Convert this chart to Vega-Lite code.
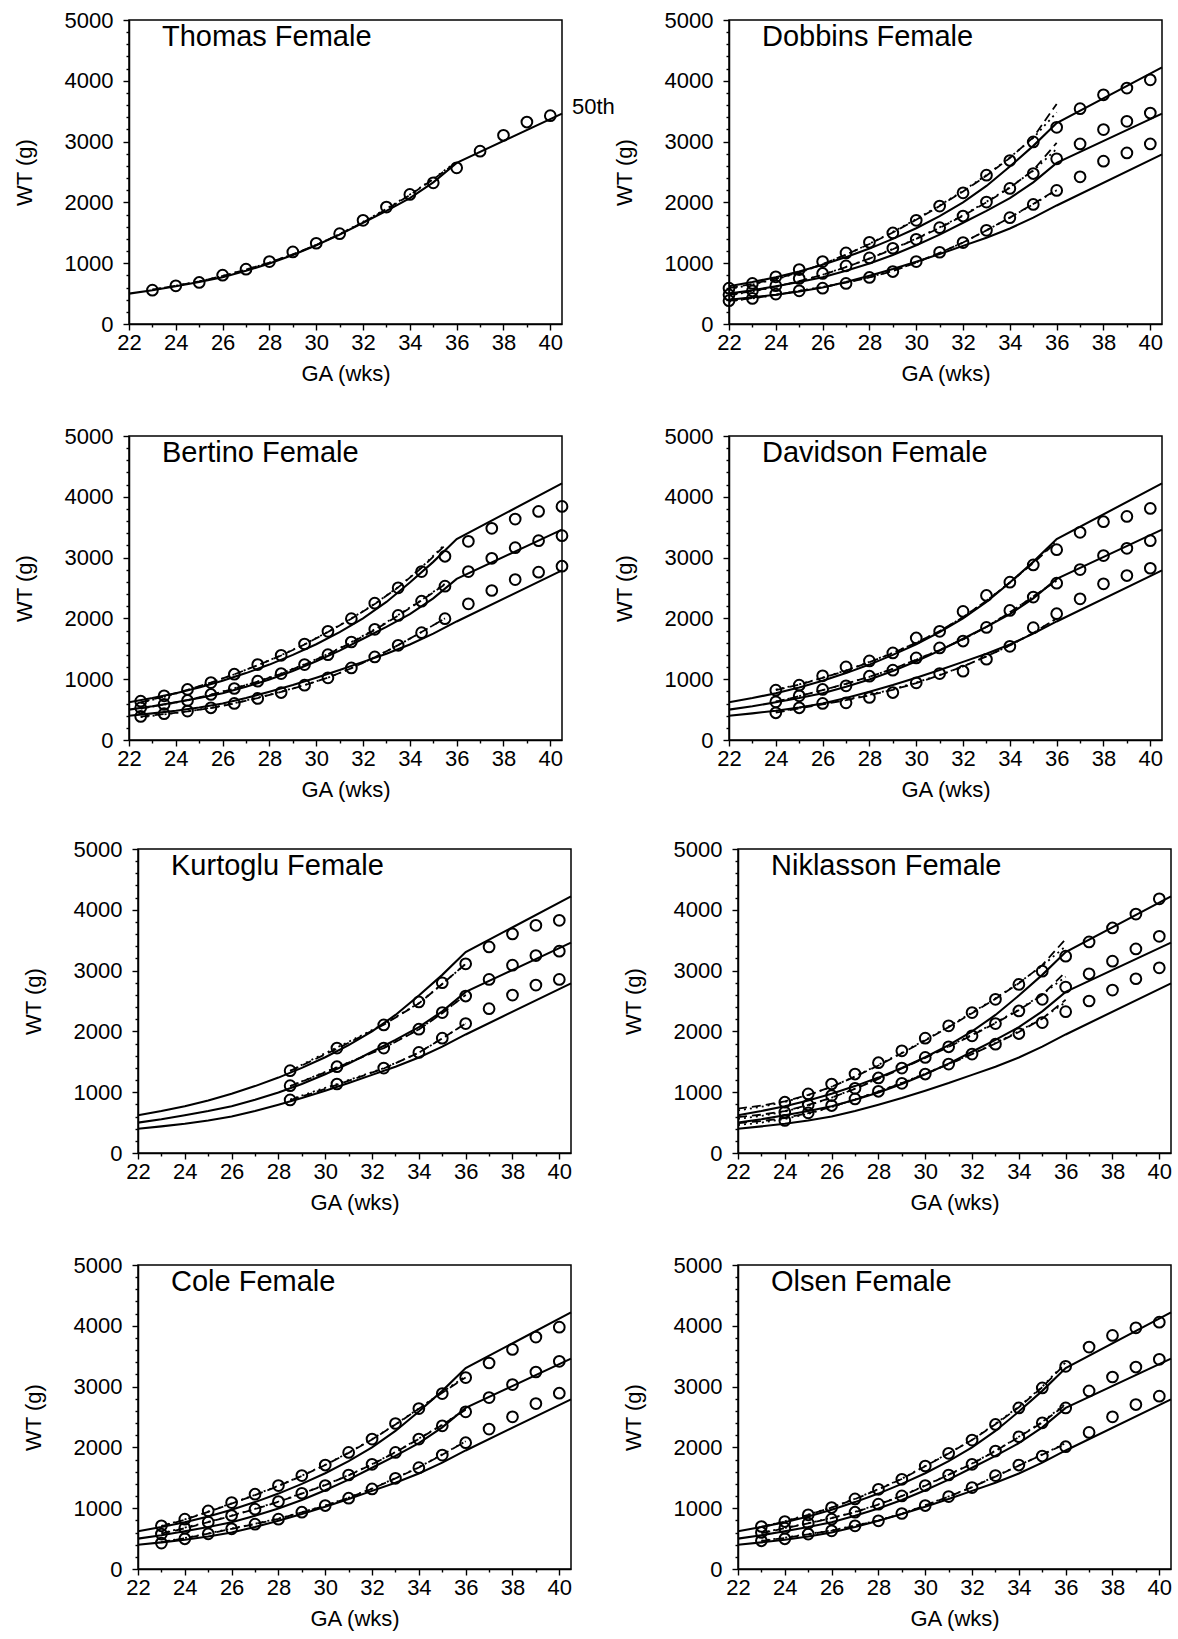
{
"$schema":"https://vega.github.io/schema/vega-lite/v6.json",
"padding":{"left":12,"top":8,"right":5,"bottom":5},
"spacing":36,
"bounds":"full",
"datasets":{
"ref":[
{"c":"90th","ga":22,"wt":620},{"c":"90th","ga":23,"wt":690},{"c":"90th","ga":24,"wt":770},{"c":"90th","ga":25,"wt":865},{"c":"90th","ga":26,"wt":975},{"c":"90th","ga":27,"wt":1100},{"c":"90th","ga":28,"wt":1240},{"c":"90th","ga":29,"wt":1400},{"c":"90th","ga":30,"wt":1575},{"c":"90th","ga":31,"wt":1775},{"c":"90th","ga":32,"wt":2000},{"c":"90th","ga":33,"wt":2270},{"c":"90th","ga":34,"wt":2590},{"c":"90th","ga":35,"wt":2930},{"c":"90th","ga":36,"wt":3305},{"c":"90th","ga":40.5,"wt":4220},
{"c":"50th","ga":22,"wt":500},{"c":"50th","ga":23,"wt":555},{"c":"50th","ga":24,"wt":620},{"c":"50th","ga":25,"wt":690},{"c":"50th","ga":26,"wt":770},{"c":"50th","ga":27,"wt":875},{"c":"50th","ga":28,"wt":995},{"c":"50th","ga":29,"wt":1135},{"c":"50th","ga":30,"wt":1295},{"c":"50th","ga":31,"wt":1470},{"c":"50th","ga":32,"wt":1665},{"c":"50th","ga":33,"wt":1860},{"c":"50th","ga":34,"wt":2070},{"c":"50th","ga":35,"wt":2330},{"c":"50th","ga":36,"wt":2650},{"c":"50th","ga":40.5,"wt":3460},
{"c":"10th","ga":22,"wt":400},{"c":"10th","ga":23,"wt":438},{"c":"10th","ga":24,"wt":482},{"c":"10th","ga":25,"wt":535},{"c":"10th","ga":26,"wt":600},{"c":"10th","ga":27,"wt":690},{"c":"10th","ga":28,"wt":795},{"c":"10th","ga":29,"wt":905},{"c":"10th","ga":30,"wt":1025},{"c":"10th","ga":31,"wt":1150},{"c":"10th","ga":32,"wt":1285},{"c":"10th","ga":33,"wt":1420},{"c":"10th","ga":34,"wt":1570},{"c":"10th","ga":35,"wt":1750},{"c":"10th","ga":36,"wt":1950},{"c":"10th","ga":40.5,"wt":2790}
],
"fit":[
{"p":"Thomas","c":"50th","ga":23,"a":565,"b":565},{"p":"Thomas","c":"50th","ga":24,"a":630,"b":630},{"p":"Thomas","c":"50th","ga":25,"a":700,"b":700},{"p":"Thomas","c":"50th","ga":26,"a":790,"b":790},{"p":"Thomas","c":"50th","ga":27,"a":895,"b":895},{"p":"Thomas","c":"50th","ga":28,"a":1010,"b":1010},{"p":"Thomas","c":"50th","ga":29,"a":1145,"b":1145},{"p":"Thomas","c":"50th","ga":30,"a":1300,"b":1300},{"p":"Thomas","c":"50th","ga":31,"a":1475,"b":1480},{"p":"Thomas","c":"50th","ga":32,"a":1670,"b":1680},{"p":"Thomas","c":"50th","ga":33,"a":1885,"b":1895},{"p":"Thomas","c":"50th","ga":34,"a":2120,"b":2130},{"p":"Thomas","c":"50th","ga":35,"a":2380,"b":2390},{"p":"Thomas","c":"50th","ga":36,"a":2660,"b":2670},

{"p":"Dobbins","c":"90th","ga":22,"a":590,"b":575},{"p":"Dobbins","c":"90th","ga":23,"a":660,"b":650},{"p":"Dobbins","c":"90th","ga":24,"a":745,"b":735},{"p":"Dobbins","c":"90th","ga":25,"a":850,"b":845},{"p":"Dobbins","c":"90th","ga":26,"a":985,"b":980},{"p":"Dobbins","c":"90th","ga":27,"a":1140,"b":1140},{"p":"Dobbins","c":"90th","ga":28,"a":1315,"b":1320},{"p":"Dobbins","c":"90th","ga":29,"a":1505,"b":1515},{"p":"Dobbins","c":"90th","ga":30,"a":1715,"b":1725},{"p":"Dobbins","c":"90th","ga":31,"a":1940,"b":1950},{"p":"Dobbins","c":"90th","ga":32,"a":2180,"b":2190},{"p":"Dobbins","c":"90th","ga":33,"a":2440,"b":2450},{"p":"Dobbins","c":"90th","ga":34,"a":2730,"b":2740},{"p":"Dobbins","c":"90th","ga":35,"a":3070,"b":3060},{"p":"Dobbins","c":"90th","ga":36,"a":3620,"b":3480},
{"p":"Dobbins","c":"50th","ga":22,"a":480,"b":470},{"p":"Dobbins","c":"50th","ga":23,"a":540,"b":535},{"p":"Dobbins","c":"50th","ga":24,"a":615,"b":610},{"p":"Dobbins","c":"50th","ga":25,"a":705,"b":700},{"p":"Dobbins","c":"50th","ga":26,"a":810,"b":810},{"p":"Dobbins","c":"50th","ga":27,"a":935,"b":940},{"p":"Dobbins","c":"50th","ga":28,"a":1075,"b":1080},{"p":"Dobbins","c":"50th","ga":29,"a":1230,"b":1235},{"p":"Dobbins","c":"50th","ga":30,"a":1400,"b":1405},{"p":"Dobbins","c":"50th","ga":31,"a":1580,"b":1590},{"p":"Dobbins","c":"50th","ga":32,"a":1780,"b":1790},{"p":"Dobbins","c":"50th","ga":33,"a":2000,"b":2010},{"p":"Dobbins","c":"50th","ga":34,"a":2240,"b":2250},{"p":"Dobbins","c":"50th","ga":35,"a":2530,"b":2520},{"p":"Dobbins","c":"50th","ga":36,"a":2980,"b":2880},
{"p":"Dobbins","c":"10th","ga":22,"a":380,"b":370},{"p":"Dobbins","c":"10th","ga":23,"a":425,"b":420},{"p":"Dobbins","c":"10th","ga":24,"a":480,"b":478},{"p":"Dobbins","c":"10th","ga":25,"a":545,"b":545},{"p":"Dobbins","c":"10th","ga":26,"a":605,"b":610},{"p":"Dobbins","c":"10th","ga":27,"a":680,"b":685},{"p":"Dobbins","c":"10th","ga":28,"a":765,"b":770},{"p":"Dobbins","c":"10th","ga":29,"a":870,"b":875},{"p":"Dobbins","c":"10th","ga":30,"a":1010,"b":1010},{"p":"Dobbins","c":"10th","ga":31,"a":1170,"b":1170},{"p":"Dobbins","c":"10th","ga":32,"a":1340,"b":1340},{"p":"Dobbins","c":"10th","ga":33,"a":1540,"b":1540},{"p":"Dobbins","c":"10th","ga":34,"a":1750,"b":1750},{"p":"Dobbins","c":"10th","ga":35,"a":1975,"b":1970},{"p":"Dobbins","c":"10th","ga":36,"a":2210,"b":2200},

{"p":"Bertino","c":"90th","ga":22.5,"a":620,"b":610},{"p":"Bertino","c":"90th","ga":23.5,"a":715,"b":710},{"p":"Bertino","c":"90th","ga":24.5,"a":825,"b":820},{"p":"Bertino","c":"90th","ga":25.5,"a":945,"b":945},{"p":"Bertino","c":"90th","ga":26.5,"a":1080,"b":1080},{"p":"Bertino","c":"90th","ga":27.5,"a":1230,"b":1230},{"p":"Bertino","c":"90th","ga":28.5,"a":1390,"b":1395},{"p":"Bertino","c":"90th","ga":29.5,"a":1570,"b":1575},{"p":"Bertino","c":"90th","ga":30.5,"a":1775,"b":1780},{"p":"Bertino","c":"90th","ga":31.5,"a":1995,"b":2000},{"p":"Bertino","c":"90th","ga":32.5,"a":2235,"b":2240},{"p":"Bertino","c":"90th","ga":33.5,"a":2510,"b":2515},{"p":"Bertino","c":"90th","ga":34.5,"a":2830,"b":2840},{"p":"Bertino","c":"90th","ga":35.5,"a":3200,"b":3220},
{"p":"Bertino","c":"50th","ga":22.5,"a":520,"b":515},{"p":"Bertino","c":"50th","ga":23.5,"a":585,"b":580},{"p":"Bertino","c":"50th","ga":24.5,"a":655,"b":650},{"p":"Bertino","c":"50th","ga":25.5,"a":745,"b":745},{"p":"Bertino","c":"50th","ga":26.5,"a":845,"b":850},{"p":"Bertino","c":"50th","ga":27.5,"a":960,"b":965},{"p":"Bertino","c":"50th","ga":28.5,"a":1090,"b":1095},{"p":"Bertino","c":"50th","ga":29.5,"a":1240,"b":1245},{"p":"Bertino","c":"50th","ga":30.5,"a":1410,"b":1415},{"p":"Bertino","c":"50th","ga":31.5,"a":1600,"b":1610},{"p":"Bertino","c":"50th","ga":32.5,"a":1810,"b":1820},{"p":"Bertino","c":"50th","ga":33.5,"a":2045,"b":2055},{"p":"Bertino","c":"50th","ga":34.5,"a":2295,"b":2305},{"p":"Bertino","c":"50th","ga":35.5,"a":2560,"b":2570},
{"p":"Bertino","c":"10th","ga":22.5,"a":385,"b":375},{"p":"Bertino","c":"10th","ga":23.5,"a":425,"b":420},{"p":"Bertino","c":"10th","ga":24.5,"a":470,"b":470},{"p":"Bertino","c":"10th","ga":25.5,"a":525,"b":530},{"p":"Bertino","c":"10th","ga":26.5,"a":600,"b":605},{"p":"Bertino","c":"10th","ga":27.5,"a":690,"b":695},{"p":"Bertino","c":"10th","ga":28.5,"a":790,"b":795},{"p":"Bertino","c":"10th","ga":29.5,"a":900,"b":905},{"p":"Bertino","c":"10th","ga":30.5,"a":1025,"b":1025},{"p":"Bertino","c":"10th","ga":31.5,"a":1180,"b":1180},{"p":"Bertino","c":"10th","ga":32.5,"a":1360,"b":1360},{"p":"Bertino","c":"10th","ga":33.5,"a":1560,"b":1560},{"p":"Bertino","c":"10th","ga":34.5,"a":1775,"b":1775},{"p":"Bertino","c":"10th","ga":35.5,"a":2000,"b":2000},

{"p":"Davidson","c":"90th","ga":24,"a":820,"b":830},{"p":"Davidson","c":"90th","ga":25,"a":910,"b":915},{"p":"Davidson","c":"90th","ga":26,"a":1020,"b":1025},{"p":"Davidson","c":"90th","ga":27,"a":1140,"b":1145},{"p":"Davidson","c":"90th","ga":28,"a":1280,"b":1285},{"p":"Davidson","c":"90th","ga":29,"a":1430,"b":1435},{"p":"Davidson","c":"90th","ga":30,"a":1600,"b":1600},{"p":"Davidson","c":"90th","ga":31,"a":1790,"b":1790},{"p":"Davidson","c":"90th","ga":32,"a":2020,"b":2020},{"p":"Davidson","c":"90th","ga":33,"a":2290,"b":2290},{"p":"Davidson","c":"90th","ga":34,"a":2590,"b":2590},{"p":"Davidson","c":"90th","ga":35,"a":2910,"b":2920},{"p":"Davidson","c":"90th","ga":36,"a":3260,"b":3280},
{"p":"Davidson","c":"50th","ga":24,"a":630,"b":630},{"p":"Davidson","c":"50th","ga":25,"a":720,"b":720},{"p":"Davidson","c":"50th","ga":26,"a":820,"b":820},{"p":"Davidson","c":"50th","ga":27,"a":925,"b":925},{"p":"Davidson","c":"50th","ga":28,"a":1040,"b":1040},{"p":"Davidson","c":"50th","ga":29,"a":1170,"b":1170},{"p":"Davidson","c":"50th","ga":30,"a":1320,"b":1320},{"p":"Davidson","c":"50th","ga":31,"a":1480,"b":1480},{"p":"Davidson","c":"50th","ga":32,"a":1655,"b":1655},{"p":"Davidson","c":"50th","ga":33,"a":1860,"b":1860},{"p":"Davidson","c":"50th","ga":34,"a":2100,"b":2100},{"p":"Davidson","c":"50th","ga":35,"a":2360,"b":2360},{"p":"Davidson","c":"50th","ga":36,"a":2620,"b":2620},
{"p":"Davidson","c":"10th","ga":24,"a":450,"b":460},{"p":"Davidson","c":"10th","ga":25,"a":520,"b":530},{"p":"Davidson","c":"10th","ga":26,"a":585,"b":595},{"p":"Davidson","c":"10th","ga":27,"a":655,"b":665},{"p":"Davidson","c":"10th","ga":28,"a":735,"b":745},{"p":"Davidson","c":"10th","ga":29,"a":825,"b":835},{"p":"Davidson","c":"10th","ga":30,"a":935,"b":945},{"p":"Davidson","c":"10th","ga":31,"a":1065,"b":1070},{"p":"Davidson","c":"10th","ga":32,"a":1210,"b":1210},{"p":"Davidson","c":"10th","ga":33,"a":1375,"b":1375},{"p":"Davidson","c":"10th","ga":34,"a":1555,"b":1555},{"p":"Davidson","c":"10th","ga":35,"a":1760,"b":1760},{"p":"Davidson","c":"10th","ga":36,"a":2000,"b":2000},

{"p":"Kurtoglu","c":"90th","ga":28.5,"a":1350,"b":1350},{"p":"Kurtoglu","c":"90th","ga":29.5,"a":1530,"b":1550},{"p":"Kurtoglu","c":"90th","ga":30.5,"a":1715,"b":1735},{"p":"Kurtoglu","c":"90th","ga":31.5,"a":1910,"b":1925},{"p":"Kurtoglu","c":"90th","ga":32.5,"a":2110,"b":2120},{"p":"Kurtoglu","c":"90th","ga":34,"a":2460,"b":2465},{"p":"Kurtoglu","c":"90th","ga":35,"a":2780,"b":2780},{"p":"Kurtoglu","c":"90th","ga":36,"a":3110,"b":3110},
{"p":"Kurtoglu","c":"50th","ga":28.5,"a":1100,"b":1100},{"p":"Kurtoglu","c":"50th","ga":29.5,"a":1250,"b":1255},{"p":"Kurtoglu","c":"50th","ga":30.5,"a":1405,"b":1410},{"p":"Kurtoglu","c":"50th","ga":31.5,"a":1565,"b":1570},{"p":"Kurtoglu","c":"50th","ga":32.5,"a":1725,"b":1730},{"p":"Kurtoglu","c":"50th","ga":34,"a":2030,"b":2035},{"p":"Kurtoglu","c":"50th","ga":35,"a":2300,"b":2305},{"p":"Kurtoglu","c":"50th","ga":36,"a":2600,"b":2600},
{"p":"Kurtoglu","c":"10th","ga":28.5,"a":870,"b":880},{"p":"Kurtoglu","c":"10th","ga":29.5,"a":990,"b":1010},{"p":"Kurtoglu","c":"10th","ga":30.5,"a":1120,"b":1135},{"p":"Kurtoglu","c":"10th","ga":31.5,"a":1255,"b":1265},{"p":"Kurtoglu","c":"10th","ga":32.5,"a":1390,"b":1395},{"p":"Kurtoglu","c":"10th","ga":34,"a":1650,"b":1650},{"p":"Kurtoglu","c":"10th","ga":35,"a":1885,"b":1885},{"p":"Kurtoglu","c":"10th","ga":36,"a":2130,"b":2130},

{"p":"Niklasson","c":"90th","ga":22,"a":730,"b":700},{"p":"Niklasson","c":"90th","ga":23,"a":780,"b":760},{"p":"Niklasson","c":"90th","ga":24,"a":850,"b":840},{"p":"Niklasson","c":"90th","ga":25,"a":955,"b":950},{"p":"Niklasson","c":"90th","ga":26,"a":1090,"b":1090},{"p":"Niklasson","c":"90th","ga":27,"a":1255,"b":1260},{"p":"Niklasson","c":"90th","ga":28,"a":1440,"b":1450},{"p":"Niklasson","c":"90th","ga":29,"a":1640,"b":1650},{"p":"Niklasson","c":"90th","ga":30,"a":1850,"b":1860},{"p":"Niklasson","c":"90th","ga":31,"a":2070,"b":2080},{"p":"Niklasson","c":"90th","ga":32,"a":2300,"b":2310},{"p":"Niklasson","c":"90th","ga":33,"a":2535,"b":2545},{"p":"Niklasson","c":"90th","ga":34,"a":2790,"b":2800},{"p":"Niklasson","c":"90th","ga":35,"a":3090,"b":3080},{"p":"Niklasson","c":"90th","ga":36,"a":3520,"b":3400},
{"p":"Niklasson","c":"50th","ga":22,"a":590,"b":560},{"p":"Niklasson","c":"50th","ga":23,"a":630,"b":610},{"p":"Niklasson","c":"50th","ga":24,"a":690,"b":680},{"p":"Niklasson","c":"50th","ga":25,"a":790,"b":780},{"p":"Niklasson","c":"50th","ga":26,"a":910,"b":910},{"p":"Niklasson","c":"50th","ga":27,"a":1055,"b":1060},{"p":"Niklasson","c":"50th","ga":28,"a":1220,"b":1225},{"p":"Niklasson","c":"50th","ga":29,"a":1390,"b":1395},{"p":"Niklasson","c":"50th","ga":30,"a":1565,"b":1570},{"p":"Niklasson","c":"50th","ga":31,"a":1745,"b":1755},{"p":"Niklasson","c":"50th","ga":32,"a":1935,"b":1945},{"p":"Niklasson","c":"50th","ga":33,"a":2135,"b":2145},{"p":"Niklasson","c":"50th","ga":34,"a":2350,"b":2360},{"p":"Niklasson","c":"50th","ga":35,"a":2600,"b":2610},{"p":"Niklasson","c":"50th","ga":36,"a":2980,"b":2900},
{"p":"Niklasson","c":"10th","ga":22,"a":490,"b":460},{"p":"Niklasson","c":"10th","ga":23,"a":525,"b":500},{"p":"Niklasson","c":"10th","ga":24,"a":575,"b":560},{"p":"Niklasson","c":"10th","ga":25,"a":655,"b":645},{"p":"Niklasson","c":"10th","ga":26,"a":760,"b":755},{"p":"Niklasson","c":"10th","ga":27,"a":880,"b":880},{"p":"Niklasson","c":"10th","ga":28,"a":1010,"b":1015},{"p":"Niklasson","c":"10th","ga":29,"a":1150,"b":1155},{"p":"Niklasson","c":"10th","ga":30,"a":1300,"b":1305},{"p":"Niklasson","c":"10th","ga":31,"a":1460,"b":1465},{"p":"Niklasson","c":"10th","ga":32,"a":1625,"b":1630},{"p":"Niklasson","c":"10th","ga":33,"a":1800,"b":1810},{"p":"Niklasson","c":"10th","ga":34,"a":1990,"b":2000},{"p":"Niklasson","c":"10th","ga":35,"a":2210,"b":2220},{"p":"Niklasson","c":"10th","ga":36,"a":2520,"b":2480},

{"p":"Cole","c":"90th","ga":23,"a":700,"b":710},{"p":"Cole","c":"90th","ga":24,"a":810,"b":815},{"p":"Cole","c":"90th","ga":25,"a":940,"b":945},{"p":"Cole","c":"90th","ga":26,"a":1075,"b":1080},{"p":"Cole","c":"90th","ga":27,"a":1215,"b":1220},{"p":"Cole","c":"90th","ga":28,"a":1365,"b":1370},{"p":"Cole","c":"90th","ga":29,"a":1530,"b":1535},{"p":"Cole","c":"90th","ga":30,"a":1710,"b":1715},{"p":"Cole","c":"90th","ga":31,"a":1910,"b":1915},{"p":"Cole","c":"90th","ga":32,"a":2130,"b":2135},{"p":"Cole","c":"90th","ga":33,"a":2375,"b":2380},{"p":"Cole","c":"90th","ga":34,"a":2635,"b":2640},{"p":"Cole","c":"90th","ga":35,"a":2900,"b":2910},{"p":"Cole","c":"90th","ga":36,"a":3150,"b":3170},
{"p":"Cole","c":"50th","ga":23,"a":580,"b":590},{"p":"Cole","c":"50th","ga":24,"a":670,"b":680},{"p":"Cole","c":"50th","ga":25,"a":770,"b":775},{"p":"Cole","c":"50th","ga":26,"a":875,"b":880},{"p":"Cole","c":"50th","ga":27,"a":985,"b":990},{"p":"Cole","c":"50th","ga":28,"a":1105,"b":1110},{"p":"Cole","c":"50th","ga":29,"a":1240,"b":1245},{"p":"Cole","c":"50th","ga":30,"a":1380,"b":1385},{"p":"Cole","c":"50th","ga":31,"a":1540,"b":1545},{"p":"Cole","c":"50th","ga":32,"a":1720,"b":1725},{"p":"Cole","c":"50th","ga":33,"a":1920,"b":1925},{"p":"Cole","c":"50th","ga":34,"a":2140,"b":2145},{"p":"Cole","c":"50th","ga":35,"a":2370,"b":2375},{"p":"Cole","c":"50th","ga":36,"a":2620,"b":2630},
{"p":"Cole","c":"10th","ga":23,"a":440,"b":445},{"p":"Cole","c":"10th","ga":24,"a":505,"b":510},{"p":"Cole","c":"10th","ga":25,"a":580,"b":585},{"p":"Cole","c":"10th","ga":26,"a":660,"b":665},{"p":"Cole","c":"10th","ga":27,"a":740,"b":745},{"p":"Cole","c":"10th","ga":28,"a":825,"b":830},{"p":"Cole","c":"10th","ga":29,"a":930,"b":935},{"p":"Cole","c":"10th","ga":30,"a":1040,"b":1045},{"p":"Cole","c":"10th","ga":31,"a":1170,"b":1175},{"p":"Cole","c":"10th","ga":32,"a":1320,"b":1325},{"p":"Cole","c":"10th","ga":33,"a":1490,"b":1495},{"p":"Cole","c":"10th","ga":34,"a":1670,"b":1675},{"p":"Cole","c":"10th","ga":35,"a":1880,"b":1885},{"p":"Cole","c":"10th","ga":36,"a":2100,"b":2100},

{"p":"Olsen","c":"90th","ga":23,"a":690,"b":695},{"p":"Olsen","c":"90th","ga":24,"a":780,"b":785},{"p":"Olsen","c":"90th","ga":25,"a":890,"b":895},{"p":"Olsen","c":"90th","ga":26,"a":1010,"b":1015},{"p":"Olsen","c":"90th","ga":27,"a":1150,"b":1155},{"p":"Olsen","c":"90th","ga":28,"a":1310,"b":1315},{"p":"Olsen","c":"90th","ga":29,"a":1480,"b":1485},{"p":"Olsen","c":"90th","ga":30,"a":1690,"b":1695},{"p":"Olsen","c":"90th","ga":31,"a":1900,"b":1905},{"p":"Olsen","c":"90th","ga":32,"a":2120,"b":2125},{"p":"Olsen","c":"90th","ga":33,"a":2380,"b":2390},{"p":"Olsen","c":"90th","ga":34,"a":2660,"b":2670},{"p":"Olsen","c":"90th","ga":35,"a":2990,"b":3000},{"p":"Olsen","c":"90th","ga":36,"a":3380,"b":3400},
{"p":"Olsen","c":"50th","ga":23,"a":590,"b":595},{"p":"Olsen","c":"50th","ga":24,"a":670,"b":675},{"p":"Olsen","c":"50th","ga":25,"a":750,"b":755},{"p":"Olsen","c":"50th","ga":26,"a":835,"b":840},{"p":"Olsen","c":"50th","ga":27,"a":935,"b":940},{"p":"Olsen","c":"50th","ga":28,"a":1060,"b":1065},{"p":"Olsen","c":"50th","ga":29,"a":1200,"b":1205},{"p":"Olsen","c":"50th","ga":30,"a":1370,"b":1375},{"p":"Olsen","c":"50th","ga":31,"a":1550,"b":1555},{"p":"Olsen","c":"50th","ga":32,"a":1730,"b":1735},{"p":"Olsen","c":"50th","ga":33,"a":1940,"b":1945},{"p":"Olsen","c":"50th","ga":34,"a":2170,"b":2175},{"p":"Olsen","c":"50th","ga":35,"a":2410,"b":2420},{"p":"Olsen","c":"50th","ga":36,"a":2700,"b":2720},
{"p":"Olsen","c":"10th","ga":23,"a":460,"b":465},{"p":"Olsen","c":"10th","ga":24,"a":510,"b":515},{"p":"Olsen","c":"10th","ga":25,"a":570,"b":575},{"p":"Olsen","c":"10th","ga":26,"a":630,"b":635},{"p":"Olsen","c":"10th","ga":27,"a":710,"b":715},{"p":"Olsen","c":"10th","ga":28,"a":795,"b":800},{"p":"Olsen","c":"10th","ga":29,"a":905,"b":910},{"p":"Olsen","c":"10th","ga":30,"a":1045,"b":1050},{"p":"Olsen","c":"10th","ga":31,"a":1190,"b":1195},{"p":"Olsen","c":"10th","ga":32,"a":1345,"b":1350},{"p":"Olsen","c":"10th","ga":33,"a":1520,"b":1525},{"p":"Olsen","c":"10th","ga":34,"a":1700,"b":1705},{"p":"Olsen","c":"10th","ga":35,"a":1880,"b":1885},{"p":"Olsen","c":"10th","ga":36,"a":2060,"b":2070}
],
"obs":[
{"p":"Thomas","c":"50th","ga":23,"wt":557},{"p":"Thomas","c":"50th","ga":24,"wt":628},{"p":"Thomas","c":"50th","ga":25,"wt":683},{"p":"Thomas","c":"50th","ga":26,"wt":803},{"p":"Thomas","c":"50th","ga":27,"wt":902},{"p":"Thomas","c":"50th","ga":28,"wt":1027},{"p":"Thomas","c":"50th","ga":29,"wt":1186},{"p":"Thomas","c":"50th","ga":30,"wt":1328},{"p":"Thomas","c":"50th","ga":31,"wt":1486},{"p":"Thomas","c":"50th","ga":32,"wt":1705},{"p":"Thomas","c":"50th","ga":33,"wt":1923},{"p":"Thomas","c":"50th","ga":34,"wt":2131},{"p":"Thomas","c":"50th","ga":35,"wt":2322},{"p":"Thomas","c":"50th","ga":36,"wt":2568},{"p":"Thomas","c":"50th","ga":37,"wt":2842},{"p":"Thomas","c":"50th","ga":38,"wt":3104},{"p":"Thomas","c":"50th","ga":39,"wt":3322},{"p":"Thomas","c":"50th","ga":40,"wt":3426},

{"p":"Dobbins","c":"90th","ga":22,"wt":590},{"p":"Dobbins","c":"90th","ga":23,"wt":667},{"p":"Dobbins","c":"90th","ga":24,"wt":776},{"p":"Dobbins","c":"90th","ga":25,"wt":896},{"p":"Dobbins","c":"90th","ga":26,"wt":1027},{"p":"Dobbins","c":"90th","ga":27,"wt":1169},{"p":"Dobbins","c":"90th","ga":28,"wt":1344},{"p":"Dobbins","c":"90th","ga":29,"wt":1497},{"p":"Dobbins","c":"90th","ga":30,"wt":1705},{"p":"Dobbins","c":"90th","ga":31,"wt":1940},{"p":"Dobbins","c":"90th","ga":32,"wt":2158},{"p":"Dobbins","c":"90th","ga":33,"wt":2448},{"p":"Dobbins","c":"90th","ga":34,"wt":2689},{"p":"Dobbins","c":"90th","ga":35,"wt":2995},{"p":"Dobbins","c":"90th","ga":36,"wt":3235},{"p":"Dobbins","c":"90th","ga":37,"wt":3541},{"p":"Dobbins","c":"90th","ga":38,"wt":3770},{"p":"Dobbins","c":"90th","ga":39,"wt":3880},{"p":"Dobbins","c":"90th","ga":40,"wt":4016},
{"p":"Dobbins","c":"50th","ga":22,"wt":481},{"p":"Dobbins","c":"50th","ga":23,"wt":546},{"p":"Dobbins","c":"50th","ga":24,"wt":630},{"p":"Dobbins","c":"50th","ga":25,"wt":749},{"p":"Dobbins","c":"50th","ga":26,"wt":831},{"p":"Dobbins","c":"50th","ga":27,"wt":956},{"p":"Dobbins","c":"50th","ga":28,"wt":1087},{"p":"Dobbins","c":"50th","ga":29,"wt":1246},{"p":"Dobbins","c":"50th","ga":30,"wt":1393},{"p":"Dobbins","c":"50th","ga":31,"wt":1585},{"p":"Dobbins","c":"50th","ga":32,"wt":1776},{"p":"Dobbins","c":"50th","ga":33,"wt":2005},{"p":"Dobbins","c":"50th","ga":34,"wt":2230},{"p":"Dobbins","c":"50th","ga":35,"wt":2475},{"p":"Dobbins","c":"50th","ga":36,"wt":2716},{"p":"Dobbins","c":"50th","ga":37,"wt":2962},{"p":"Dobbins","c":"50th","ga":38,"wt":3197},{"p":"Dobbins","c":"50th","ga":39,"wt":3333},{"p":"Dobbins","c":"50th","ga":40,"wt":3470},
{"p":"Dobbins","c":"10th","ga":22,"wt":383},{"p":"Dobbins","c":"10th","ga":23,"wt":421},{"p":"Dobbins","c":"10th","ga":24,"wt":492},{"p":"Dobbins","c":"10th","ga":25,"wt":546},{"p":"Dobbins","c":"10th","ga":26,"wt":590},{"p":"Dobbins","c":"10th","ga":27,"wt":667},{"p":"Dobbins","c":"10th","ga":28,"wt":765},{"p":"Dobbins","c":"10th","ga":29,"wt":863},{"p":"Dobbins","c":"10th","ga":30,"wt":1027},{"p":"Dobbins","c":"10th","ga":31,"wt":1180},{"p":"Dobbins","c":"10th","ga":32,"wt":1339},{"p":"Dobbins","c":"10th","ga":33,"wt":1541},{"p":"Dobbins","c":"10th","ga":34,"wt":1749},{"p":"Dobbins","c":"10th","ga":35,"wt":1967},{"p":"Dobbins","c":"10th","ga":36,"wt":2197},{"p":"Dobbins","c":"10th","ga":37,"wt":2421},{"p":"Dobbins","c":"10th","ga":38,"wt":2678},{"p":"Dobbins","c":"10th","ga":39,"wt":2814},{"p":"Dobbins","c":"10th","ga":40,"wt":2962},

{"p":"Bertino","c":"90th","ga":22.5,"wt":639},{"p":"Bertino","c":"90th","ga":23.5,"wt":727},{"p":"Bertino","c":"90th","ga":24.5,"wt":831},{"p":"Bertino","c":"90th","ga":25.5,"wt":945},{"p":"Bertino","c":"90th","ga":26.5,"wt":1082},{"p":"Bertino","c":"90th","ga":27.5,"wt":1240},{"p":"Bertino","c":"90th","ga":28.5,"wt":1393},{"p":"Bertino","c":"90th","ga":29.5,"wt":1579},{"p":"Bertino","c":"90th","ga":30.5,"wt":1787},{"p":"Bertino","c":"90th","ga":31.5,"wt":1995},{"p":"Bertino","c":"90th","ga":32.5,"wt":2251},{"p":"Bertino","c":"90th","ga":33.5,"wt":2503},{"p":"Bertino","c":"90th","ga":34.5,"wt":2770},{"p":"Bertino","c":"90th","ga":35.5,"wt":3022},{"p":"Bertino","c":"90th","ga":36.5,"wt":3268},{"p":"Bertino","c":"90th","ga":37.5,"wt":3481},{"p":"Bertino","c":"90th","ga":38.5,"wt":3634},{"p":"Bertino","c":"90th","ga":39.5,"wt":3760},{"p":"Bertino","c":"90th","ga":40.5,"wt":3842},
{"p":"Bertino","c":"50th","ga":22.5,"wt":530},{"p":"Bertino","c":"50th","ga":23.5,"wt":585},{"p":"Bertino","c":"50th","ga":24.5,"wt":650},{"p":"Bertino","c":"50th","ga":25.5,"wt":749},{"p":"Bertino","c":"50th","ga":26.5,"wt":847},{"p":"Bertino","c":"50th","ga":27.5,"wt":967},{"p":"Bertino","c":"50th","ga":28.5,"wt":1093},{"p":"Bertino","c":"50th","ga":29.5,"wt":1240},{"p":"Bertino","c":"50th","ga":30.5,"wt":1404},{"p":"Bertino","c":"50th","ga":31.5,"wt":1612},{"p":"Bertino","c":"50th","ga":32.5,"wt":1820},{"p":"Bertino","c":"50th","ga":33.5,"wt":2049},{"p":"Bertino","c":"50th","ga":34.5,"wt":2284},{"p":"Bertino","c":"50th","ga":35.5,"wt":2530},{"p":"Bertino","c":"50th","ga":36.5,"wt":2770},{"p":"Bertino","c":"50th","ga":37.5,"wt":2989},{"p":"Bertino","c":"50th","ga":38.5,"wt":3164},{"p":"Bertino","c":"50th","ga":39.5,"wt":3279},{"p":"Bertino","c":"50th","ga":40.5,"wt":3361},
{"p":"Bertino","c":"10th","ga":22.5,"wt":388},{"p":"Bertino","c":"10th","ga":23.5,"wt":432},{"p":"Bertino","c":"10th","ga":24.5,"wt":475},{"p":"Bertino","c":"10th","ga":25.5,"wt":530},{"p":"Bertino","c":"10th","ga":26.5,"wt":601},{"p":"Bertino","c":"10th","ga":27.5,"wt":683},{"p":"Bertino","c":"10th","ga":28.5,"wt":781},{"p":"Bertino","c":"10th","ga":29.5,"wt":902},{"p":"Bertino","c":"10th","ga":30.5,"wt":1022},{"p":"Bertino","c":"10th","ga":31.5,"wt":1186},{"p":"Bertino","c":"10th","ga":32.5,"wt":1366},{"p":"Bertino","c":"10th","ga":33.5,"wt":1557},{"p":"Bertino","c":"10th","ga":34.5,"wt":1765},{"p":"Bertino","c":"10th","ga":35.5,"wt":1995},{"p":"Bertino","c":"10th","ga":36.5,"wt":2240},{"p":"Bertino","c":"10th","ga":37.5,"wt":2459},{"p":"Bertino","c":"10th","ga":38.5,"wt":2639},{"p":"Bertino","c":"10th","ga":39.5,"wt":2760},{"p":"Bertino","c":"10th","ga":40.5,"wt":2858},

{"p":"Davidson","c":"90th","ga":24,"wt":820},{"p":"Davidson","c":"90th","ga":25,"wt":902},{"p":"Davidson","c":"90th","ga":26,"wt":1055},{"p":"Davidson","c":"90th","ga":27,"wt":1202},{"p":"Davidson","c":"90th","ga":28,"wt":1301},{"p":"Davidson","c":"90th","ga":29,"wt":1432},{"p":"Davidson","c":"90th","ga":30,"wt":1678},{"p":"Davidson","c":"90th","ga":31,"wt":1787},{"p":"Davidson","c":"90th","ga":32,"wt":2115},{"p":"Davidson","c":"90th","ga":33,"wt":2377},{"p":"Davidson","c":"90th","ga":34,"wt":2596},{"p":"Davidson","c":"90th","ga":35,"wt":2880},{"p":"Davidson","c":"90th","ga":36,"wt":3131},{"p":"Davidson","c":"90th","ga":37,"wt":3415},{"p":"Davidson","c":"90th","ga":38,"wt":3590},{"p":"Davidson","c":"90th","ga":39,"wt":3678},{"p":"Davidson","c":"90th","ga":40,"wt":3809},
{"p":"Davidson","c":"50th","ga":24,"wt":628},{"p":"Davidson","c":"50th","ga":25,"wt":727},{"p":"Davidson","c":"50th","ga":26,"wt":831},{"p":"Davidson","c":"50th","ga":27,"wt":891},{"p":"Davidson","c":"50th","ga":28,"wt":1049},{"p":"Davidson","c":"50th","ga":29,"wt":1148},{"p":"Davidson","c":"50th","ga":30,"wt":1350},{"p":"Davidson","c":"50th","ga":31,"wt":1514},{"p":"Davidson","c":"50th","ga":32,"wt":1628},{"p":"Davidson","c":"50th","ga":33,"wt":1852},{"p":"Davidson","c":"50th","ga":34,"wt":2131},{"p":"Davidson","c":"50th","ga":35,"wt":2350},{"p":"Davidson","c":"50th","ga":36,"wt":2579},{"p":"Davidson","c":"50th","ga":37,"wt":2803},{"p":"Davidson","c":"50th","ga":38,"wt":3033},{"p":"Davidson","c":"50th","ga":39,"wt":3153},{"p":"Davidson","c":"50th","ga":40,"wt":3279},
{"p":"Davidson","c":"10th","ga":24,"wt":448},{"p":"Davidson","c":"10th","ga":25,"wt":530},{"p":"Davidson","c":"10th","ga":26,"wt":601},{"p":"Davidson","c":"10th","ga":27,"wt":612},{"p":"Davidson","c":"10th","ga":28,"wt":699},{"p":"Davidson","c":"10th","ga":29,"wt":781},{"p":"Davidson","c":"10th","ga":30,"wt":940},{"p":"Davidson","c":"10th","ga":31,"wt":1093},{"p":"Davidson","c":"10th","ga":32,"wt":1131},{"p":"Davidson","c":"10th","ga":33,"wt":1328},{"p":"Davidson","c":"10th","ga":34,"wt":1541},{"p":"Davidson","c":"10th","ga":35,"wt":1847},{"p":"Davidson","c":"10th","ga":36,"wt":2077},{"p":"Davidson","c":"10th","ga":37,"wt":2322},{"p":"Davidson","c":"10th","ga":38,"wt":2568},{"p":"Davidson","c":"10th","ga":39,"wt":2705},{"p":"Davidson","c":"10th","ga":40,"wt":2825},

{"p":"Kurtoglu","c":"90th","ga":28.5,"wt":1354},{"p":"Kurtoglu","c":"90th","ga":30.5,"wt":1725},{"p":"Kurtoglu","c":"90th","ga":32.5,"wt":2107},{"p":"Kurtoglu","c":"90th","ga":34,"wt":2484},{"p":"Kurtoglu","c":"90th","ga":35,"wt":2800},{"p":"Kurtoglu","c":"90th","ga":36,"wt":3111},{"p":"Kurtoglu","c":"90th","ga":37,"wt":3390},{"p":"Kurtoglu","c":"90th","ga":38,"wt":3603},{"p":"Kurtoglu","c":"90th","ga":39,"wt":3745},{"p":"Kurtoglu","c":"90th","ga":40,"wt":3827},
{"p":"Kurtoglu","c":"50th","ga":28.5,"wt":1108},{"p":"Kurtoglu","c":"50th","ga":30.5,"wt":1419},{"p":"Kurtoglu","c":"50th","ga":32.5,"wt":1725},{"p":"Kurtoglu","c":"50th","ga":34,"wt":2036},{"p":"Kurtoglu","c":"50th","ga":35,"wt":2309},{"p":"Kurtoglu","c":"50th","ga":36,"wt":2582},{"p":"Kurtoglu","c":"50th","ga":37,"wt":2855},{"p":"Kurtoglu","c":"50th","ga":38,"wt":3090},{"p":"Kurtoglu","c":"50th","ga":39,"wt":3248},{"p":"Kurtoglu","c":"50th","ga":40,"wt":3319},
{"p":"Kurtoglu","c":"10th","ga":28.5,"wt":873},{"p":"Kurtoglu","c":"10th","ga":30.5,"wt":1135},{"p":"Kurtoglu","c":"10th","ga":32.5,"wt":1397},{"p":"Kurtoglu","c":"10th","ga":34,"wt":1654},{"p":"Kurtoglu","c":"10th","ga":35,"wt":1889},{"p":"Kurtoglu","c":"10th","ga":36,"wt":2129},{"p":"Kurtoglu","c":"10th","ga":37,"wt":2374},{"p":"Kurtoglu","c":"10th","ga":38,"wt":2598},{"p":"Kurtoglu","c":"10th","ga":39,"wt":2762},{"p":"Kurtoglu","c":"10th","ga":40,"wt":2855},

{"p":"Niklasson","c":"90th","ga":24,"wt":835},{"p":"Niklasson","c":"90th","ga":25,"wt":972},{"p":"Niklasson","c":"90th","ga":26,"wt":1135},{"p":"Niklasson","c":"90th","ga":27,"wt":1299},{"p":"Niklasson","c":"90th","ga":28,"wt":1485},{"p":"Niklasson","c":"90th","ga":29,"wt":1681},{"p":"Niklasson","c":"90th","ga":30,"wt":1889},{"p":"Niklasson","c":"90th","ga":31,"wt":2091},{"p":"Niklasson","c":"90th","ga":32,"wt":2309},{"p":"Niklasson","c":"90th","ga":33,"wt":2527},{"p":"Niklasson","c":"90th","ga":34,"wt":2773},{"p":"Niklasson","c":"90th","ga":35,"wt":2991},{"p":"Niklasson","c":"90th","ga":36,"wt":3237},{"p":"Niklasson","c":"90th","ga":37,"wt":3472},{"p":"Niklasson","c":"90th","ga":38,"wt":3701},{"p":"Niklasson","c":"90th","ga":39,"wt":3930},{"p":"Niklasson","c":"90th","ga":40,"wt":4181},
{"p":"Niklasson","c":"50th","ga":24,"wt":671},{"p":"Niklasson","c":"50th","ga":25,"wt":791},{"p":"Niklasson","c":"50th","ga":26,"wt":944},{"p":"Niklasson","c":"50th","ga":27,"wt":1064},{"p":"Niklasson","c":"50th","ga":28,"wt":1234},{"p":"Niklasson","c":"50th","ga":29,"wt":1397},{"p":"Niklasson","c":"50th","ga":30,"wt":1572},{"p":"Niklasson","c":"50th","ga":31,"wt":1747},{"p":"Niklasson","c":"50th","ga":32,"wt":1927},{"p":"Niklasson","c":"50th","ga":33,"wt":2129},{"p":"Niklasson","c":"50th","ga":34,"wt":2336},{"p":"Niklasson","c":"50th","ga":35,"wt":2527},{"p":"Niklasson","c":"50th","ga":36,"wt":2729},{"p":"Niklasson","c":"50th","ga":37,"wt":2948},{"p":"Niklasson","c":"50th","ga":38,"wt":3155},{"p":"Niklasson","c":"50th","ga":39,"wt":3357},{"p":"Niklasson","c":"50th","ga":40,"wt":3564},
{"p":"Niklasson","c":"10th","ga":24,"wt":535},{"p":"Niklasson","c":"10th","ga":25,"wt":660},{"p":"Niklasson","c":"10th","ga":26,"wt":781},{"p":"Niklasson","c":"10th","ga":27,"wt":890},{"p":"Niklasson","c":"10th","ga":28,"wt":1015},{"p":"Niklasson","c":"10th","ga":29,"wt":1146},{"p":"Niklasson","c":"10th","ga":30,"wt":1299},{"p":"Niklasson","c":"10th","ga":31,"wt":1463},{"p":"Niklasson","c":"10th","ga":32,"wt":1627},{"p":"Niklasson","c":"10th","ga":33,"wt":1790},{"p":"Niklasson","c":"10th","ga":34,"wt":1965},{"p":"Niklasson","c":"10th","ga":35,"wt":2145},{"p":"Niklasson","c":"10th","ga":36,"wt":2325},{"p":"Niklasson","c":"10th","ga":37,"wt":2500},{"p":"Niklasson","c":"10th","ga":38,"wt":2680},{"p":"Niklasson","c":"10th","ga":39,"wt":2866},{"p":"Niklasson","c":"10th","ga":40,"wt":3046},

{"p":"Cole","c":"90th","ga":23,"wt":710},{"p":"Cole","c":"90th","ga":24,"wt":820},{"p":"Cole","c":"90th","ga":25,"wt":956},{"p":"Cole","c":"90th","ga":26,"wt":1093},{"p":"Cole","c":"90th","ga":27,"wt":1230},{"p":"Cole","c":"90th","ga":28,"wt":1372},{"p":"Cole","c":"90th","ga":29,"wt":1536},{"p":"Cole","c":"90th","ga":30,"wt":1710},{"p":"Cole","c":"90th","ga":31,"wt":1918},{"p":"Cole","c":"90th","ga":32,"wt":2137},{"p":"Cole","c":"90th","ga":33,"wt":2393},{"p":"Cole","c":"90th","ga":34,"wt":2639},{"p":"Cole","c":"90th","ga":35,"wt":2885},{"p":"Cole","c":"90th","ga":36,"wt":3148},{"p":"Cole","c":"90th","ga":37,"wt":3388},{"p":"Cole","c":"90th","ga":38,"wt":3612},{"p":"Cole","c":"90th","ga":39,"wt":3814},{"p":"Cole","c":"90th","ga":40,"wt":3978},
{"p":"Cole","c":"50th","ga":23,"wt":574},{"p":"Cole","c":"50th","ga":24,"wt":672},{"p":"Cole","c":"50th","ga":25,"wt":770},{"p":"Cole","c":"50th","ga":26,"wt":880},{"p":"Cole","c":"50th","ga":27,"wt":984},{"p":"Cole","c":"50th","ga":28,"wt":1109},{"p":"Cole","c":"50th","ga":29,"wt":1246},{"p":"Cole","c":"50th","ga":30,"wt":1372},{"p":"Cole","c":"50th","ga":31,"wt":1546},{"p":"Cole","c":"50th","ga":32,"wt":1721},{"p":"Cole","c":"50th","ga":33,"wt":1918},{"p":"Cole","c":"50th","ga":34,"wt":2137},{"p":"Cole","c":"50th","ga":35,"wt":2355},{"p":"Cole","c":"50th","ga":36,"wt":2585},{"p":"Cole","c":"50th","ga":37,"wt":2820},{"p":"Cole","c":"50th","ga":38,"wt":3033},{"p":"Cole","c":"50th","ga":39,"wt":3240},{"p":"Cole","c":"50th","ga":40,"wt":3415},
{"p":"Cole","c":"10th","ga":23,"wt":426},{"p":"Cole","c":"10th","ga":24,"wt":497},{"p":"Cole","c":"10th","ga":25,"wt":579},{"p":"Cole","c":"10th","ga":26,"wt":661},{"p":"Cole","c":"10th","ga":27,"wt":738},{"p":"Cole","c":"10th","ga":28,"wt":820},{"p":"Cole","c":"10th","ga":29,"wt":934},{"p":"Cole","c":"10th","ga":30,"wt":1044},{"p":"Cole","c":"10th","ga":31,"wt":1164},{"p":"Cole","c":"10th","ga":32,"wt":1317},{"p":"Cole","c":"10th","ga":33,"wt":1492},{"p":"Cole","c":"10th","ga":34,"wt":1667},{"p":"Cole","c":"10th","ga":35,"wt":1874},{"p":"Cole","c":"10th","ga":36,"wt":2077},{"p":"Cole","c":"10th","ga":37,"wt":2301},{"p":"Cole","c":"10th","ga":38,"wt":2503},{"p":"Cole","c":"10th","ga":39,"wt":2721},{"p":"Cole","c":"10th","ga":40,"wt":2891},

{"p":"Olsen","c":"90th","ga":23,"wt":699},{"p":"Olsen","c":"90th","ga":24,"wt":781},{"p":"Olsen","c":"90th","ga":25,"wt":891},{"p":"Olsen","c":"90th","ga":26,"wt":1011},{"p":"Olsen","c":"90th","ga":27,"wt":1153},{"p":"Olsen","c":"90th","ga":28,"wt":1311},{"p":"Olsen","c":"90th","ga":29,"wt":1475},{"p":"Olsen","c":"90th","ga":30,"wt":1694},{"p":"Olsen","c":"90th","ga":31,"wt":1902},{"p":"Olsen","c":"90th","ga":32,"wt":2120},{"p":"Olsen","c":"90th","ga":33,"wt":2377},{"p":"Olsen","c":"90th","ga":34,"wt":2650},{"p":"Olsen","c":"90th","ga":35,"wt":2978},{"p":"Olsen","c":"90th","ga":36,"wt":3333},{"p":"Olsen","c":"90th","ga":37,"wt":3650},{"p":"Olsen","c":"90th","ga":38,"wt":3842},{"p":"Olsen","c":"90th","ga":39,"wt":3967},{"p":"Olsen","c":"90th","ga":40,"wt":4060},
{"p":"Olsen","c":"50th","ga":23,"wt":601},{"p":"Olsen","c":"50th","ga":24,"wt":672},{"p":"Olsen","c":"50th","ga":25,"wt":754},{"p":"Olsen","c":"50th","ga":26,"wt":820},{"p":"Olsen","c":"50th","ga":27,"wt":934},{"p":"Olsen","c":"50th","ga":28,"wt":1066},{"p":"Olsen","c":"50th","ga":29,"wt":1202},{"p":"Olsen","c":"50th","ga":30,"wt":1372},{"p":"Olsen","c":"50th","ga":31,"wt":1546},{"p":"Olsen","c":"50th","ga":32,"wt":1721},{"p":"Olsen","c":"50th","ga":33,"wt":1940},{"p":"Olsen","c":"50th","ga":34,"wt":2175},{"p":"Olsen","c":"50th","ga":35,"wt":2404},{"p":"Olsen","c":"50th","ga":36,"wt":2650},{"p":"Olsen","c":"50th","ga":37,"wt":2929},{"p":"Olsen","c":"50th","ga":38,"wt":3158},{"p":"Olsen","c":"50th","ga":39,"wt":3322},{"p":"Olsen","c":"50th","ga":40,"wt":3448},
{"p":"Olsen","c":"10th","ga":23,"wt":464},{"p":"Olsen","c":"10th","ga":24,"wt":497},{"p":"Olsen","c":"10th","ga":25,"wt":574},{"p":"Olsen","c":"10th","ga":26,"wt":628},{"p":"Olsen","c":"10th","ga":27,"wt":710},{"p":"Olsen","c":"10th","ga":28,"wt":792},{"p":"Olsen","c":"10th","ga":29,"wt":913},{"p":"Olsen","c":"10th","ga":30,"wt":1044},{"p":"Olsen","c":"10th","ga":31,"wt":1191},{"p":"Olsen","c":"10th","ga":32,"wt":1339},{"p":"Olsen","c":"10th","ga":33,"wt":1536},{"p":"Olsen","c":"10th","ga":34,"wt":1710},{"p":"Olsen","c":"10th","ga":35,"wt":1858},{"p":"Olsen","c":"10th","ga":36,"wt":2011},{"p":"Olsen","c":"10th","ga":37,"wt":2246},{"p":"Olsen","c":"10th","ga":38,"wt":2503},{"p":"Olsen","c":"10th","ga":39,"wt":2705},{"p":"Olsen","c":"10th","ga":40,"wt":2842}
]
},
"vconcat":[
{"columns":2,"spacing":{"row":112,"column":167},"bounds":"flush",
"concat":[
{"title":"Thomas Female","width":433,"height":304,
 "encoding":{"x":{"field":"ga","type":"quantitative","title":"GA (wks)","scale":{"domain":[22,40.5],"nice":false,"zero":false},"axis":{"values":[22,23,24,25,26,27,28,29,30,31,32,33,34,35,36,37,38,39,40],"labelExpr":"datum.value % 2 === 0 ? datum.label : ''","tickSize":{"condition":{"test":"datum.value % 2 === 0","value":6},"value":3}}},
  "y":{"field":"wt","type":"quantitative","title":"WT (g)","scale":{"domain":[0,5000],"nice":false},"axis":{"values":[0,200,400,600,800,1000,1200,1400,1600,1800,2000,2200,2400,2600,2800,3000,3200,3400,3600,3800,4000,4200,4400,4600,4800,5000],"format":"d","labelExpr":"datum.value % 1000 === 0 ? datum.label : ''","tickSize":{"condition":{"test":"datum.value % 1000 === 0","value":6},"value":3}}}},
 "layer":[
  {"data":{"name":"ref"},"transform":[{"filter":"datum.c === '50th'"}],"mark":{"type":"line","strokeWidth":2.1,"color":"black"},"encoding":{"detail":{"field":"c"}}},
  {"data":{"name":"fit"},"transform":[{"filter":"datum.p === 'Thomas'"},{"fold":["a","b"],"as":["m","wt"]}],"mark":{"type":"line","strokeWidth":1.8,"color":"black"},"encoding":{"detail":{"field":"c"},"strokeDash":{"field":"m","type":"nominal","scale":{"domain":["a","b"],"range":[[9,5],[2,4]]},"legend":null}}},
  {"data":{"name":"obs"},"transform":[{"filter":"datum.p === 'Thomas'"}],"mark":{"type":"point","shape":"circle","size":115,"strokeWidth":2,"filled":false,"color":"black","opacity":1}},
  {"data":{"name":"ref"},"transform":[{"filter":"datum.c === '50th' && datum.ga === 40.5"}],"mark":{"type":"text","align":"left","baseline":"middle","dx":10,"dy":-7,"fontSize":22,"color":"black"},"encoding":{"text":{"field":"c"}}}
 ]},
{"title":"Dobbins Female","width":433,"height":304,
 "encoding":{"x":{"field":"ga","type":"quantitative","title":"GA (wks)","scale":{"domain":[22,40.5],"nice":false,"zero":false},"axis":{"values":[22,23,24,25,26,27,28,29,30,31,32,33,34,35,36,37,38,39,40],"labelExpr":"datum.value % 2 === 0 ? datum.label : ''","tickSize":{"condition":{"test":"datum.value % 2 === 0","value":6},"value":3}}},
  "y":{"field":"wt","type":"quantitative","title":"WT (g)","scale":{"domain":[0,5000],"nice":false},"axis":{"values":[0,200,400,600,800,1000,1200,1400,1600,1800,2000,2200,2400,2600,2800,3000,3200,3400,3600,3800,4000,4200,4400,4600,4800,5000],"format":"d","labelExpr":"datum.value % 1000 === 0 ? datum.label : ''","tickSize":{"condition":{"test":"datum.value % 1000 === 0","value":6},"value":3}}}},
 "layer":[
  {"data":{"name":"ref"},"mark":{"type":"line","strokeWidth":2.1,"color":"black"},"encoding":{"detail":{"field":"c"}}},
  {"data":{"name":"fit"},"transform":[{"filter":"datum.p === 'Dobbins'"},{"fold":["a","b"],"as":["m","wt"]}],"mark":{"type":"line","strokeWidth":1.8,"color":"black"},"encoding":{"detail":{"field":"c"},"strokeDash":{"field":"m","type":"nominal","scale":{"domain":["a","b"],"range":[[9,5],[2,4]]},"legend":null}}},
  {"data":{"name":"obs"},"transform":[{"filter":"datum.p === 'Dobbins'"}],"mark":{"type":"point","shape":"circle","size":115,"strokeWidth":2,"filled":false,"color":"black","opacity":1}}
 ]},
{"title":"Bertino Female","width":433,"height":304,
 "encoding":{"x":{"field":"ga","type":"quantitative","title":"GA (wks)","scale":{"domain":[22,40.5],"nice":false,"zero":false},"axis":{"values":[22,23,24,25,26,27,28,29,30,31,32,33,34,35,36,37,38,39,40],"labelExpr":"datum.value % 2 === 0 ? datum.label : ''","tickSize":{"condition":{"test":"datum.value % 2 === 0","value":6},"value":3}}},
  "y":{"field":"wt","type":"quantitative","title":"WT (g)","scale":{"domain":[0,5000],"nice":false},"axis":{"values":[0,200,400,600,800,1000,1200,1400,1600,1800,2000,2200,2400,2600,2800,3000,3200,3400,3600,3800,4000,4200,4400,4600,4800,5000],"format":"d","labelExpr":"datum.value % 1000 === 0 ? datum.label : ''","tickSize":{"condition":{"test":"datum.value % 1000 === 0","value":6},"value":3}}}},
 "layer":[
  {"data":{"name":"ref"},"mark":{"type":"line","strokeWidth":2.1,"color":"black"},"encoding":{"detail":{"field":"c"}}},
  {"data":{"name":"fit"},"transform":[{"filter":"datum.p === 'Bertino'"},{"fold":["a","b"],"as":["m","wt"]}],"mark":{"type":"line","strokeWidth":1.8,"color":"black"},"encoding":{"detail":{"field":"c"},"strokeDash":{"field":"m","type":"nominal","scale":{"domain":["a","b"],"range":[[9,5],[2,4]]},"legend":null}}},
  {"data":{"name":"obs"},"transform":[{"filter":"datum.p === 'Bertino'"}],"mark":{"type":"point","shape":"circle","size":115,"strokeWidth":2,"filled":false,"color":"black","opacity":1}}
 ]},
{"title":"Davidson Female","width":433,"height":304,
 "encoding":{"x":{"field":"ga","type":"quantitative","title":"GA (wks)","scale":{"domain":[22,40.5],"nice":false,"zero":false},"axis":{"values":[22,23,24,25,26,27,28,29,30,31,32,33,34,35,36,37,38,39,40],"labelExpr":"datum.value % 2 === 0 ? datum.label : ''","tickSize":{"condition":{"test":"datum.value % 2 === 0","value":6},"value":3}}},
  "y":{"field":"wt","type":"quantitative","title":"WT (g)","scale":{"domain":[0,5000],"nice":false},"axis":{"values":[0,200,400,600,800,1000,1200,1400,1600,1800,2000,2200,2400,2600,2800,3000,3200,3400,3600,3800,4000,4200,4400,4600,4800,5000],"format":"d","labelExpr":"datum.value % 1000 === 0 ? datum.label : ''","tickSize":{"condition":{"test":"datum.value % 1000 === 0","value":6},"value":3}}}},
 "layer":[
  {"data":{"name":"ref"},"mark":{"type":"line","strokeWidth":2.1,"color":"black"},"encoding":{"detail":{"field":"c"}}},
  {"data":{"name":"fit"},"transform":[{"filter":"datum.p === 'Davidson'"},{"fold":["a","b"],"as":["m","wt"]}],"mark":{"type":"line","strokeWidth":1.8,"color":"black"},"encoding":{"detail":{"field":"c"},"strokeDash":{"field":"m","type":"nominal","scale":{"domain":["a","b"],"range":[[9,5],[2,4]]},"legend":null}}},
  {"data":{"name":"obs"},"transform":[{"filter":"datum.p === 'Davidson'"}],"mark":{"type":"point","shape":"circle","size":115,"strokeWidth":2,"filled":false,"color":"black","opacity":1}}
 ]}
]},
{"hconcat":[
{"width":1,"height":1,"view":{"stroke":null},"data":{"values":[{"k":0}]},"mark":{"type":"point","opacity":0}},
{"columns":2,"spacing":{"row":112,"column":167},"bounds":"flush",
"concat":[
{"title":"Kurtoglu Female","width":433,"height":304,
 "encoding":{"x":{"field":"ga","type":"quantitative","title":"GA (wks)","scale":{"domain":[22,40.5],"nice":false,"zero":false},"axis":{"values":[22,23,24,25,26,27,28,29,30,31,32,33,34,35,36,37,38,39,40],"labelExpr":"datum.value % 2 === 0 ? datum.label : ''","tickSize":{"condition":{"test":"datum.value % 2 === 0","value":6},"value":3}}},
  "y":{"field":"wt","type":"quantitative","title":"WT (g)","scale":{"domain":[0,5000],"nice":false},"axis":{"values":[0,200,400,600,800,1000,1200,1400,1600,1800,2000,2200,2400,2600,2800,3000,3200,3400,3600,3800,4000,4200,4400,4600,4800,5000],"format":"d","labelExpr":"datum.value % 1000 === 0 ? datum.label : ''","tickSize":{"condition":{"test":"datum.value % 1000 === 0","value":6},"value":3}}}},
 "layer":[
  {"data":{"name":"ref"},"mark":{"type":"line","strokeWidth":2.1,"color":"black"},"encoding":{"detail":{"field":"c"}}},
  {"data":{"name":"fit"},"transform":[{"filter":"datum.p === 'Kurtoglu'"},{"fold":["a","b"],"as":["m","wt"]}],"mark":{"type":"line","strokeWidth":1.8,"color":"black"},"encoding":{"detail":{"field":"c"},"strokeDash":{"field":"m","type":"nominal","scale":{"domain":["a","b"],"range":[[9,5],[2,4]]},"legend":null}}},
  {"data":{"name":"obs"},"transform":[{"filter":"datum.p === 'Kurtoglu'"}],"mark":{"type":"point","shape":"circle","size":115,"strokeWidth":2,"filled":false,"color":"black","opacity":1}}
 ]},
{"title":"Niklasson Female","width":433,"height":304,
 "encoding":{"x":{"field":"ga","type":"quantitative","title":"GA (wks)","scale":{"domain":[22,40.5],"nice":false,"zero":false},"axis":{"values":[22,23,24,25,26,27,28,29,30,31,32,33,34,35,36,37,38,39,40],"labelExpr":"datum.value % 2 === 0 ? datum.label : ''","tickSize":{"condition":{"test":"datum.value % 2 === 0","value":6},"value":3}}},
  "y":{"field":"wt","type":"quantitative","title":"WT (g)","scale":{"domain":[0,5000],"nice":false},"axis":{"values":[0,200,400,600,800,1000,1200,1400,1600,1800,2000,2200,2400,2600,2800,3000,3200,3400,3600,3800,4000,4200,4400,4600,4800,5000],"format":"d","labelExpr":"datum.value % 1000 === 0 ? datum.label : ''","tickSize":{"condition":{"test":"datum.value % 1000 === 0","value":6},"value":3}}}},
 "layer":[
  {"data":{"name":"ref"},"mark":{"type":"line","strokeWidth":2.1,"color":"black"},"encoding":{"detail":{"field":"c"}}},
  {"data":{"name":"fit"},"transform":[{"filter":"datum.p === 'Niklasson'"},{"fold":["a","b"],"as":["m","wt"]}],"mark":{"type":"line","strokeWidth":1.8,"color":"black"},"encoding":{"detail":{"field":"c"},"strokeDash":{"field":"m","type":"nominal","scale":{"domain":["a","b"],"range":[[9,5],[2,4]]},"legend":null}}},
  {"data":{"name":"obs"},"transform":[{"filter":"datum.p === 'Niklasson'"}],"mark":{"type":"point","shape":"circle","size":115,"strokeWidth":2,"filled":false,"color":"black","opacity":1}}
 ]},
{"title":"Cole Female","width":433,"height":304,
 "encoding":{"x":{"field":"ga","type":"quantitative","title":"GA (wks)","scale":{"domain":[22,40.5],"nice":false,"zero":false},"axis":{"values":[22,23,24,25,26,27,28,29,30,31,32,33,34,35,36,37,38,39,40],"labelExpr":"datum.value % 2 === 0 ? datum.label : ''","tickSize":{"condition":{"test":"datum.value % 2 === 0","value":6},"value":3}}},
  "y":{"field":"wt","type":"quantitative","title":"WT (g)","scale":{"domain":[0,5000],"nice":false},"axis":{"values":[0,200,400,600,800,1000,1200,1400,1600,1800,2000,2200,2400,2600,2800,3000,3200,3400,3600,3800,4000,4200,4400,4600,4800,5000],"format":"d","labelExpr":"datum.value % 1000 === 0 ? datum.label : ''","tickSize":{"condition":{"test":"datum.value % 1000 === 0","value":6},"value":3}}}},
 "layer":[
  {"data":{"name":"ref"},"mark":{"type":"line","strokeWidth":2.1,"color":"black"},"encoding":{"detail":{"field":"c"}}},
  {"data":{"name":"fit"},"transform":[{"filter":"datum.p === 'Cole'"},{"fold":["a","b"],"as":["m","wt"]}],"mark":{"type":"line","strokeWidth":1.8,"color":"black"},"encoding":{"detail":{"field":"c"},"strokeDash":{"field":"m","type":"nominal","scale":{"domain":["a","b"],"range":[[9,5],[2,4]]},"legend":null}}},
  {"data":{"name":"obs"},"transform":[{"filter":"datum.p === 'Cole'"}],"mark":{"type":"point","shape":"circle","size":115,"strokeWidth":2,"filled":false,"color":"black","opacity":1}}
 ]},
{"title":"Olsen Female","width":433,"height":304,
 "encoding":{"x":{"field":"ga","type":"quantitative","title":"GA (wks)","scale":{"domain":[22,40.5],"nice":false,"zero":false},"axis":{"values":[22,23,24,25,26,27,28,29,30,31,32,33,34,35,36,37,38,39,40],"labelExpr":"datum.value % 2 === 0 ? datum.label : ''","tickSize":{"condition":{"test":"datum.value % 2 === 0","value":6},"value":3}}},
  "y":{"field":"wt","type":"quantitative","title":"WT (g)","scale":{"domain":[0,5000],"nice":false},"axis":{"values":[0,200,400,600,800,1000,1200,1400,1600,1800,2000,2200,2400,2600,2800,3000,3200,3400,3600,3800,4000,4200,4400,4600,4800,5000],"format":"d","labelExpr":"datum.value % 1000 === 0 ? datum.label : ''","tickSize":{"condition":{"test":"datum.value % 1000 === 0","value":6},"value":3}}}},
 "layer":[
  {"data":{"name":"ref"},"mark":{"type":"line","strokeWidth":2.1,"color":"black"},"encoding":{"detail":{"field":"c"}}},
  {"data":{"name":"fit"},"transform":[{"filter":"datum.p === 'Olsen'"},{"fold":["a","b"],"as":["m","wt"]}],"mark":{"type":"line","strokeWidth":1.8,"color":"black"},"encoding":{"detail":{"field":"c"},"strokeDash":{"field":"m","type":"nominal","scale":{"domain":["a","b"],"range":[[9,5],[2,4]]},"legend":null}}},
  {"data":{"name":"obs"},"transform":[{"filter":"datum.p === 'Olsen'"}],"mark":{"type":"point","shape":"circle","size":115,"strokeWidth":2,"filled":false,"color":"black","opacity":1}}
 ]}
]}
],"spacing":8,"bounds":"flush"}
],
"config":{
 "font":"Liberation Sans",
 "background":"white",
 "view":{"stroke":"black","strokeWidth":1.5},
 "axis":{"grid":false,"domainColor":"black","domainWidth":1.5,"tickColor":"black","tickWidth":1.4,"labelColor":"black","labelFontSize":22,"labelFont":"Liberation Sans","titleFont":"Liberation Sans","titleFontSize":22,"titleFontWeight":"normal","titleColor":"black","labelOverlap":false,"labelFlush":false},
 "axisX":{"labelPadding":2,"titlePadding":10},
 "axisY":{"labelPadding":10,"titlePadding":28},
 "title":{"anchor":"start","frame":"group","offset":-43,"dx":33,"fontSize":29,"fontWeight":"normal","color":"black","font":"Liberation Sans"}
}
}
